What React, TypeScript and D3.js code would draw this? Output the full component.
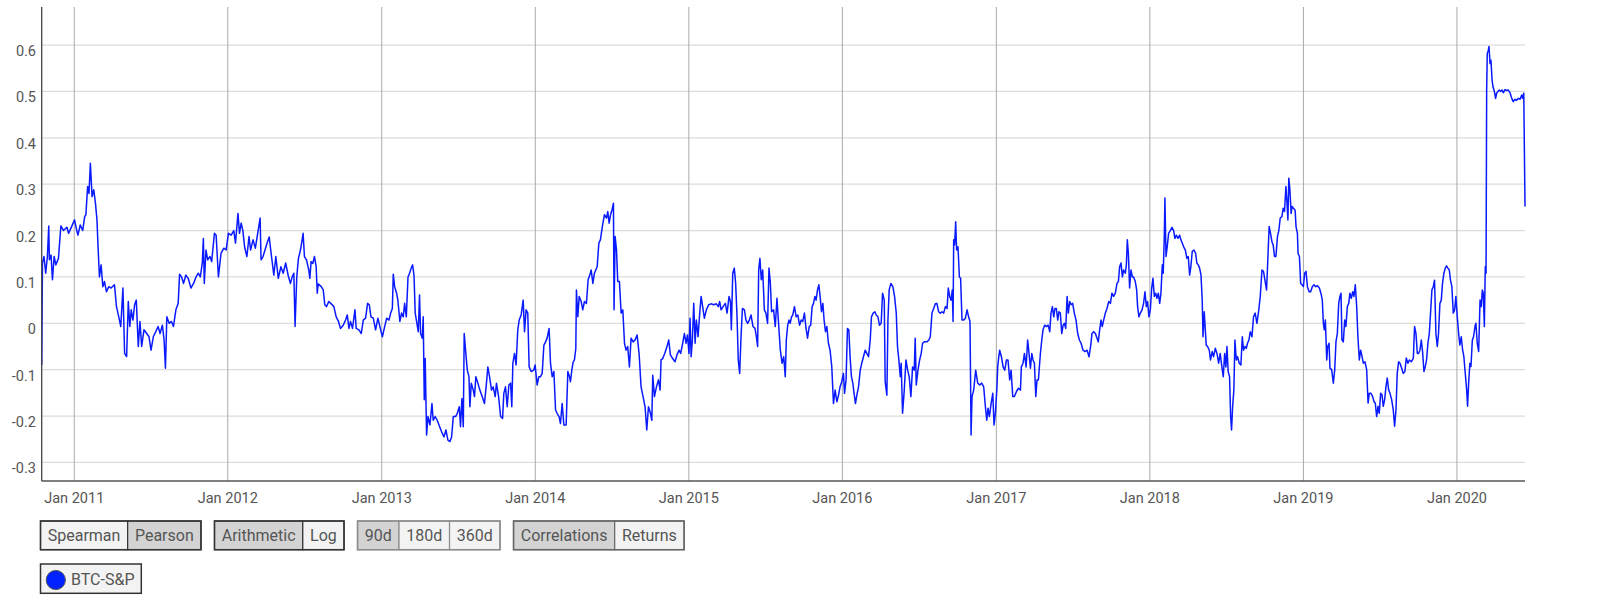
import React, { useMemo } from "react";
import * as d3 from "d3";

// Decimal-year / correlation pairs (90d Pearson BTC vs S&P)
const corr2011: [number, number][] = [
  [2010.788,-0.09],[2010.793,0.13],[2010.803,0.144],[2010.814,0.108],[2010.825,0.144],[2010.834,0.21],[2010.838,0.137],[2010.849,0.147],[2010.858,0.094],[2010.869,0.144],[2010.880,0.126],[2010.897,0.14],[2010.913,0.21],[2010.930,0.2],[2010.952,0.207],[2010.963,0.194],[2010.985,0.21],[2011.002,0.223],[2011.013,0.205],[2011.024,0.19],[2011.039,0.212],[2011.055,0.2],[2011.068,0.23],[2011.076,0.234],[2011.087,0.295],[2011.096,0.28],[2011.105,0.345],[2011.116,0.273],[2011.127,0.288],[2011.138,0.259],[2011.148,0.223],[2011.155,0.165],[2011.164,0.1],[2011.175,0.126],[2011.186,0.079],[2011.197,0.09],[2011.210,0.068],[2011.225,0.079],[2011.240,0.076],[2011.262,0.083],[2011.275,0.036],[2011.290,0.014],[2011.303,-0.007],[2011.317,0.076],[2011.328,-0.065],[2011.341,-0.072],[2011.352,0.047],[2011.362,-0.007],[2011.371,0.029],[2011.382,0.007],[2011.393,0.04],[2011.404,0.05],[2011.417,-0.05],[2011.428,0.004],[2011.439,-0.05],[2011.454,-0.014],[2011.472,-0.022],[2011.487,-0.029],[2011.500,-0.058],[2011.515,-0.029],[2011.531,-0.018],[2011.546,-0.007],[2011.559,-0.022],[2011.574,-0.004],[2011.585,-0.036],[2011.594,-0.097],[2011.603,0.014],[2011.618,0.0],[2011.633,0.004],[2011.646,-0.007],[2011.662,0.029],[2011.677,0.043],[2011.686,0.106],[2011.699,0.1],[2011.712,0.086],[2011.727,0.104],[2011.742,0.097],[2011.760,0.076],[2011.777,0.086],[2011.793,0.1],[2011.808,0.108],[2011.821,0.1],[2011.834,0.13],[2011.841,0.183],[2011.847,0.086],[2011.858,0.158],[2011.869,0.137],[2011.884,0.144],[2011.895,0.133],[2011.913,0.194],[2011.924,0.19],[2011.939,0.1],[2011.956,0.151],[2011.974,0.162],[2011.989,0.158],
];
const corr2012: [number, number][] = [
  [2012.004,0.194],[2012.022,0.19],[2012.039,0.2],[2012.050,0.173],[2012.066,0.237],[2012.076,0.194],[2012.087,0.216],[2012.098,0.2],[2012.109,0.165],[2012.124,0.144],[2012.138,0.187],[2012.148,0.158],[2012.164,0.18],[2012.179,0.162],[2012.197,0.2],[2012.210,0.227],[2012.216,0.137],[2012.229,0.144],[2012.245,0.162],[2012.258,0.176],[2012.269,0.186],[2012.284,0.144],[2012.299,0.104],[2012.312,0.144],[2012.328,0.097],[2012.345,0.122],[2012.360,0.108],[2012.376,0.13],[2012.393,0.102],
  [2012.407,0.086],[2012.418,0.1],[2012.429,0.108],[2012.437,-0.007],[2012.448,0.1],[2012.459,0.14],[2012.472,0.158],[2012.483,0.18],[2012.489,0.194],[2012.498,0.144],[2012.511,0.137],[2012.526,0.115],[2012.533,0.097],[2012.541,0.133],[2012.552,0.129],[2012.563,0.144],[2012.574,0.122],[2012.581,0.065],[2012.587,0.085],[2012.607,0.079],[2012.620,0.072],[2012.630,0.04],[2012.641,0.036],[2012.656,0.047],[2012.672,0.042],[2012.689,0.036],[2012.704,0.014],[2012.719,0.004],[2012.732,-0.011],[2012.750,-0.004],[2012.765,0.007],[2012.776,0.018],[2012.787,-0.011],[2012.797,0.004],[2012.810,-0.011],[2012.826,0.029],[2012.834,-0.011],[2012.852,-0.014],[2012.867,-0.022],[2012.880,0.007],[2012.895,0.011],[2012.908,0.043],[2012.919,0.04],[2012.930,0.014],[2012.945,0.011],[2012.960,-0.014],[2012.975,0.011],[2012.988,-0.007],
];
const corr2013: [number, number][] = [
  [2013.004,-0.029],[2013.019,-0.007],[2013.032,0.011],[2013.047,0.007],[2013.058,0.022],[2013.069,0.032],[2013.075,0.106],[2013.084,0.079],[2013.097,0.065],[2013.105,0.05],[2013.118,0.004],[2013.129,0.022],[2013.140,0.014],[2013.149,0.043],[2013.160,0.014],[2013.171,0.1],[2013.181,0.108],[2013.192,0.119],[2013.201,0.126],[2013.210,0.104],[2013.218,0.022],[2013.229,0.0],[2013.238,-0.018],[2013.246,0.061],[2013.253,-0.022],[2013.264,-0.032],[2013.270,0.014],[2013.277,-0.165],[2013.283,-0.076],[2013.292,-0.241],[2013.301,-0.201],[2013.314,-0.219],[2013.327,-0.173],[2013.335,-0.209],[2013.348,-0.201],[2013.361,-0.209],[2013.377,-0.223],[2013.390,-0.234],[2013.405,-0.245],[2013.418,-0.23],[2013.431,-0.252],[2013.444,-0.255],[2013.455,-0.245],[2013.466,-0.201],[2013.481,-0.201],[2013.492,-0.194],[2013.505,-0.18],[2013.513,-0.223],[2013.522,-0.162],[2013.531,-0.223],[2013.537,-0.022],[2013.546,-0.058],[2013.557,-0.101],[2013.568,-0.115],[2013.574,-0.18],[2013.583,-0.129],[2013.596,-0.144],[2013.604,-0.158],[2013.613,-0.115],[2013.626,-0.129],[2013.639,-0.144],[2013.654,-0.158],[2013.669,-0.173],[2013.682,-0.129],[2013.691,-0.094],[2013.702,-0.115],[2013.715,-0.144],[2013.726,-0.137],[2013.739,-0.158],[2013.747,-0.129],[2013.761,-0.158],[2013.774,-0.201],[2013.787,-0.205],[2013.795,-0.151],[2013.806,-0.137],[2013.817,-0.18],[2013.828,-0.133],[2013.839,-0.129],[2013.847,-0.18],[2013.854,-0.086],[2013.865,-0.065],[2013.875,-0.09],[2013.886,-0.014],[2013.895,0.007],[2013.908,0.018],[2013.921,0.05],[2013.930,-0.018],[2013.940,0.029],[2013.951,0.022],[2013.960,-0.094],[2013.973,-0.104],[2013.990,-0.101],[2013.999,-0.09],
];
const corr2014: [number, number][] = [
  [2014.012,-0.133],[2014.023,-0.115],[2014.034,-0.115],[2014.045,-0.108],[2014.056,-0.047],[2014.067,-0.04],[2014.077,-0.032],[2014.090,-0.011],[2014.099,-0.086],[2014.110,-0.115],[2014.121,-0.104],[2014.132,-0.187],[2014.142,-0.194],[2014.155,-0.201],[2014.164,-0.216],[2014.175,-0.173],[2014.186,-0.219],[2014.201,-0.219],[2014.212,-0.104],[2014.223,-0.115],[2014.229,-0.126],[2014.238,-0.101],[2014.247,-0.083],[2014.255,-0.079],[2014.264,-0.054],[2014.268,0.072],[2014.277,0.014],[2014.286,0.058],[2014.299,0.047],[2014.309,0.029],[2014.320,0.047],[2014.333,0.043],[2014.344,0.094],[2014.355,0.104],[2014.364,0.115],[2014.375,0.086],[2014.385,0.108],[2014.403,0.122],[2014.414,0.173],[2014.424,0.18],[2014.437,0.209],[2014.450,0.234],[2014.464,0.227],[2014.472,0.241],[2014.481,0.216],[2014.490,0.234],[2014.500,0.245],[2014.509,0.259],[2014.513,0.029],[2014.520,0.187],[2014.529,0.158],[2014.537,0.09],[2014.548,0.09],[2014.559,0.022],[2014.570,0.029],[2014.581,-0.043],[2014.591,-0.058],[2014.602,-0.05],[2014.613,-0.094],[2014.624,-0.032],[2014.637,-0.04],[2014.650,-0.036],[2014.663,-0.025],[2014.676,-0.065],[2014.689,-0.137],[2014.702,-0.158],[2014.715,-0.18],[2014.726,-0.23],[2014.737,-0.18],[2014.750,-0.194],[2014.759,-0.209],[2014.765,-0.112],[2014.776,-0.158],[2014.789,-0.137],[2014.802,-0.122],[2014.813,-0.144],[2014.819,-0.079],[2014.830,-0.076],[2014.843,-0.065],[2014.858,-0.05],[2014.869,-0.036],[2014.880,-0.068],[2014.895,-0.076],[2014.910,-0.083],[2014.923,-0.068],[2014.936,-0.058],[2014.947,-0.065],[2014.960,-0.043],[2014.971,-0.022],[2014.982,-0.043],[2014.991,-0.025],
];
const corr2015: [number, number][] = [
  [2015.001,-0.065],[2015.008,0.011],[2015.015,-0.072],[2015.023,-0.036],[2015.032,0.043],[2015.041,-0.043],[2015.049,0.007],[2015.060,-0.029],[2015.071,0.022],[2015.080,0.058],[2015.090,0.036],[2015.101,0.011],[2015.114,0.029],[2015.129,0.04],[2015.145,0.042],[2015.162,0.04],[2015.179,0.042],[2015.192,0.036],[2015.201,0.047],[2015.210,0.029],[2015.223,0.036],[2015.238,0.043],[2015.249,0.022],[2015.262,0.058],[2015.271,0.047],[2015.277,-0.014],[2015.286,0.108],[2015.296,0.119],[2015.305,0.086],[2015.314,0.014],[2015.322,-0.079],[2015.331,-0.108],[2015.340,-0.029],[2015.349,0.032],[2015.362,0.029],[2015.372,0.007],[2015.383,0.0],[2015.394,0.007],[2015.405,0.018],[2015.418,-0.007],[2015.431,-0.011],[2015.440,-0.029],[2015.448,-0.05],[2015.455,0.115],[2015.463,0.14],[2015.472,0.094],[2015.481,0.115],[2015.492,0.029],[2015.502,0.022],[2015.513,0.0],[2015.522,0.119],[2015.531,0.086],[2015.539,0.025],[2015.552,0.029],[2015.563,-0.007],[2015.574,0.054],[2015.583,0.007],[2015.596,-0.058],[2015.607,-0.086],[2015.618,-0.072],[2015.628,-0.115],[2015.635,-0.036],[2015.644,-0.004],[2015.652,0.007],
  [2015.660,0.0],[2015.669,0.014],[2015.677,0.018],[2015.688,0.036],[2015.699,0.014],[2015.710,0.018],[2015.721,-0.004],[2015.732,0.007],[2015.742,0.004],[2015.753,0.022],[2015.762,-0.007],[2015.773,-0.032],[2015.784,-0.007],[2015.794,-0.004],[2015.803,0.036],[2015.812,0.043],[2015.821,0.058],[2015.829,0.05],[2015.838,0.072],[2015.847,0.083],[2015.855,0.058],[2015.864,0.025],[2015.873,0.043],[2015.881,0.007],[2015.890,-0.018],[2015.899,-0.007],[2015.909,-0.043],[2015.920,-0.058],[2015.931,-0.094],[2015.942,-0.173],[2015.953,-0.144],[2015.964,-0.169],[2015.975,-0.155],[2015.985,-0.137],[2015.996,-0.126],
];
const corr2016: [number, number][] = [
  [2016.007,-0.108],[2016.014,-0.151],[2016.024,-0.122],[2016.033,-0.011],[2016.042,-0.014],[2016.050,-0.072],[2016.059,-0.115],[2016.068,-0.129],[2016.076,-0.151],[2016.085,-0.173],[2016.094,-0.155],[2016.105,-0.137],[2016.116,-0.101],[2016.126,-0.086],[2016.137,-0.072],[2016.148,-0.058],[2016.159,-0.065],[2016.170,-0.072],[2016.181,-0.036],[2016.189,0.014],[2016.200,0.022],[2016.211,0.025],[2016.220,0.018],[2016.231,0.014],[2016.241,-0.004],[2016.252,0.0],[2016.261,0.065],[2016.272,0.05],[2016.278,-0.126],[2016.289,-0.155],[2016.296,0.007],[2016.304,0.072],[2016.315,0.086],[2016.328,0.079],[2016.339,0.058],[2016.350,0.022],[2016.358,-0.05],[2016.367,-0.079],[2016.376,-0.115],[2016.382,-0.086],[2016.391,-0.194],[2016.402,-0.144],[2016.413,-0.079],[2016.424,-0.101],[2016.434,-0.115],[2016.445,-0.158],[2016.456,-0.094],[2016.467,-0.101],[2016.473,-0.032],[2016.480,-0.133],[2016.491,-0.101],[2016.502,-0.079],[2016.512,-0.065],[2016.521,-0.043],[2016.532,-0.04],[2016.549,-0.04],[2016.562,-0.036],[2016.571,-0.029],[2016.582,0.022],[2016.593,0.032],[2016.604,0.042],[2016.614,0.043],[2016.625,0.025],[2016.636,0.022],[2016.647,0.025],[2016.658,0.022],[2016.669,0.036],[2016.680,0.032],[2016.688,0.076],[2016.697,0.058],[2016.706,0.05],[2016.714,0.072],[2016.719,0.004],[2016.723,0.18],[2016.729,0.169],[2016.736,0.219],[2016.742,0.158],[2016.751,0.165],[2016.760,0.1],[2016.768,0.097],[2016.777,0.007],[2016.788,0.007],[2016.799,0.011],[2016.810,0.029],[2016.820,0.014],[2016.829,0.004],[2016.836,-0.241],[2016.842,-0.158],[2016.853,-0.144],[2016.866,-0.101],[2016.879,-0.129],[2016.892,-0.133],[2016.905,-0.129],[2016.918,-0.137],[2016.929,-0.18],[2016.938,-0.209],[2016.946,-0.183],[2016.955,-0.201],[2016.966,-0.173],[2016.977,-0.151],[2016.985,-0.219],[2016.994,-0.194],
];
const corr2017: [number, number][] = [
  [2017.003,-0.144],[2017.009,-0.094],[2017.016,-0.072],[2017.022,-0.058],[2017.033,-0.072],[2017.044,-0.094],[2017.055,-0.101],[2017.066,-0.079],[2017.076,-0.079],[2017.087,-0.122],[2017.096,-0.101],[2017.107,-0.158],[2017.118,-0.158],[2017.131,-0.147],[2017.144,-0.14],[2017.157,-0.144],[2017.163,-0.094],[2017.174,-0.086],[2017.183,-0.065],[2017.194,-0.094],[2017.204,-0.036],[2017.213,-0.065],[2017.222,-0.097],[2017.231,-0.065],[2017.239,-0.079],[2017.248,-0.086],[2017.257,-0.158],[2017.265,-0.122],[2017.274,-0.122],
  [2017.287,-0.065],[2017.296,-0.036],[2017.304,-0.014],[2017.315,-0.004],[2017.326,-0.007],[2017.337,-0.004],[2017.348,-0.018],[2017.356,0.022],[2017.365,0.036],[2017.374,0.014],[2017.382,0.032],[2017.391,0.032],[2017.400,0.007],[2017.408,0.025],[2017.417,0.022],[2017.426,-0.022],[2017.435,-0.004],[2017.443,0.0],[2017.452,-0.011],[2017.461,0.058],[2017.469,0.022],[2017.478,0.047],[2017.487,0.04],[2017.497,0.043],[2017.508,0.022],[2017.519,0.007],[2017.530,-0.022],[2017.541,-0.036],[2017.552,-0.043],[2017.565,-0.058],[2017.578,-0.061],[2017.591,-0.058],[2017.604,-0.072],[2017.615,-0.047],[2017.623,-0.022],[2017.634,-0.018],[2017.645,-0.022],[2017.656,-0.032],[2017.664,-0.04],[2017.673,-0.014],[2017.682,0.007],[2017.690,-0.007],[2017.699,0.007],[2017.710,0.022],[2017.721,0.032],[2017.732,0.047],[2017.743,0.043],[2017.753,0.065],[2017.764,0.058],[2017.775,0.065],[2017.786,0.086],[2017.795,0.09],[2017.803,0.122],[2017.812,0.13],[2017.821,0.1],[2017.829,0.115],[2017.840,0.108],[2017.847,0.126],[2017.853,0.18],[2017.860,0.151],[2017.868,0.076],[2017.877,0.115],[2017.886,0.1],[2017.894,0.1],[2017.905,0.09],[2017.914,0.072],[2017.920,0.036],[2017.929,0.014],[2017.938,0.022],[2017.949,0.029],[2017.959,0.043],[2017.968,0.068],[2017.977,0.036],[2017.985,0.047],[2017.994,0.014],
];
const corr2018: [number, number][] = [
  [2018.003,0.029],[2018.012,0.076],[2018.020,0.097],[2018.029,0.058],[2018.038,0.065],[2018.046,0.054],[2018.055,0.065],[2018.064,0.043],[2018.072,0.065],[2018.081,0.126],[2018.087,0.108],[2018.094,0.187],[2018.098,0.27],[2018.105,0.144],[2018.113,0.165],[2018.122,0.194],[2018.133,0.2],[2018.144,0.207],[2018.155,0.2],[2018.163,0.183],[2018.172,0.19],[2018.183,0.183],[2018.194,0.19],[2018.202,0.18],[2018.211,0.173],[2018.220,0.165],[2018.231,0.158],[2018.241,0.14],[2018.250,0.144],[2018.259,0.104],[2018.267,0.122],[2018.276,0.155],[2018.287,0.158],[2018.298,0.151],[2018.306,0.13],[2018.315,0.126],[2018.324,0.119],[2018.333,0.104],[2018.341,0.05],[2018.346,-0.029],[2018.354,0.025],[2018.361,-0.014],[2018.367,-0.047],[2018.376,-0.05],[2018.387,-0.058],[2018.395,-0.079],[2018.406,-0.061],[2018.415,-0.072],[2018.426,-0.054],[2018.437,-0.065],[2018.448,-0.086],[2018.458,-0.065],[2018.469,-0.094],[2018.478,-0.115],[2018.487,-0.065],[2018.495,-0.094],[2018.502,-0.05],[2018.510,-0.104],[2018.519,-0.115],[2018.526,-0.201],[2018.532,-0.23],[2018.539,-0.18],[2018.547,-0.144],[2018.554,-0.036],[2018.563,-0.079],[2018.571,-0.072],[2018.582,-0.086],[2018.593,-0.09],[2018.602,-0.029],[2018.610,-0.058],[2018.619,-0.05],[2018.628,-0.054],[2018.636,-0.043],[2018.645,-0.036],[2018.654,-0.018],[2018.665,-0.029],[2018.675,0.014],[2018.686,0.022],[2018.697,0.0],[2018.708,0.025],[2018.719,0.058],[2018.730,0.115],[2018.740,0.112],[2018.751,0.09],[2018.760,0.072],[2018.769,0.144],[2018.777,0.209],[2018.786,0.194],[2018.795,0.176],[2018.803,0.169],[2018.812,0.144],[2018.821,0.144],[2018.831,0.187],[2018.840,0.2],[2018.849,0.227],[2018.860,0.23],[2018.868,0.248],[2018.877,0.241],[2018.886,0.295],[2018.892,0.266],[2018.899,0.223],[2018.905,0.313],[2018.912,0.288],[2018.920,0.237],[2018.926,0.252],[2018.935,0.248],[2018.946,0.244],[2018.952,0.208],[2018.961,0.194],[2018.965,0.151],[2018.974,0.144],[2018.982,0.086],[2018.991,0.083],
];
const corr2019: [number, number][] = [
  [2019.000,0.079],[2019.008,0.108],[2019.017,0.112],[2019.026,0.079],[2019.037,0.068],[2019.047,0.068],[2019.058,0.079],[2019.069,0.083],[2019.080,0.079],[2019.091,0.081],[2019.104,0.076],[2019.117,0.061],[2019.123,0.05],[2019.130,0.0],[2019.136,-0.014],[2019.143,0.007],[2019.152,-0.079],[2019.158,-0.05],[2019.167,-0.043],[2019.173,-0.097],[2019.184,-0.1],[2019.195,-0.129],[2019.204,-0.1],[2019.212,-0.04],[2019.221,-0.022],[2019.230,0.043],[2019.238,0.058],[2019.245,0.065],[2019.251,-0.036],[2019.260,-0.04],[2019.269,0.007],[2019.277,-0.007],[2019.286,0.036],[2019.295,0.043],[2019.303,0.065],[2019.312,0.054],[2019.321,0.068],[2019.329,0.058],[2019.338,0.083],[2019.347,0.036],[2019.355,-0.029],[2019.364,-0.079],[2019.373,-0.058],[2019.382,-0.072],[2019.390,-0.086],[2019.401,-0.083],[2019.412,-0.1],[2019.421,-0.172],[2019.429,-0.151],[2019.440,-0.151],[2019.451,-0.158],[2019.460,-0.169],[2019.468,-0.172],[2019.477,-0.201],[2019.486,-0.179],[2019.494,-0.194],[2019.503,-0.151],[2019.512,-0.154],[2019.520,-0.179],[2019.529,-0.165],[2019.538,-0.136],[2019.546,-0.118],[2019.555,-0.143],[2019.564,-0.151],[2019.575,-0.165],[2019.585,-0.186],[2019.594,-0.222],[2019.603,-0.186],[2019.611,-0.108],[2019.620,-0.083],[2019.629,-0.086],[2019.640,-0.097],[2019.650,-0.108],[2019.661,-0.104],[2019.670,-0.075],[2019.681,-0.086],[2019.690,-0.079],[2019.703,-0.083],[2019.716,-0.075],[2019.724,-0.007],[2019.733,-0.022],[2019.742,-0.065],[2019.750,-0.065],[2019.759,-0.058],[2019.768,-0.036],[2019.776,-0.061],[2019.785,-0.104],[2019.794,-0.093],[2019.802,-0.079],[2019.811,-0.043],[2019.820,-0.022],[2019.828,0.022],[2019.837,0.072],[2019.846,0.079],[2019.854,0.093],[2019.863,-0.022],[2019.872,-0.05],[2019.880,-0.022],[2019.889,0.043],[2019.898,0.05],[2019.906,0.086],[2019.915,0.108],[2019.924,0.119],[2019.932,0.124],[2019.941,0.119],[2019.950,0.115],[2019.958,0.093],[2019.967,0.079],[2019.976,0.022],[2019.985,0.029],[2019.993,0.058],
];
const corr2020: [number, number][] = [
  [2020.002,0.014],[2020.011,-0.022],[2020.019,-0.047],[2020.028,-0.029],[2020.037,-0.058],[2020.045,-0.072],[2020.054,-0.108],[2020.063,-0.143],[2020.069,-0.179],[2020.076,-0.129],[2020.084,-0.086],[2020.091,-0.093],[2020.100,-0.036],[2020.108,-0.029],[2020.117,-0.007],[2020.123,0.0],[2020.132,-0.043],[2020.141,-0.061],[2020.150,0.05],[2020.158,0.036],[2020.165,0.072],[2020.171,0.065],[2020.178,-0.007],[2020.184,0.122],[2020.189,0.108],[2020.193,0.503],[2020.197,0.582],[2020.204,0.589],[2020.208,0.597],[2020.215,0.56],[2020.221,0.567],[2020.228,0.525],[2020.234,0.51],[2020.243,0.5],[2020.251,0.485],[2020.258,0.496],[2020.267,0.5],[2020.275,0.503],[2020.284,0.5],[2020.293,0.503],[2020.301,0.497],[2020.312,0.504],[2020.323,0.502],[2020.334,0.503],[2020.345,0.497],[2020.356,0.485],[2020.366,0.478],[2020.377,0.483],[2020.388,0.481],[2020.399,0.485],[2020.410,0.483],[2020.421,0.492],[2020.427,0.485],[2020.434,0.496],[2020.442,0.252],
];

const yTicks = [-0.3, -0.2, -0.1, 0, 0.1, 0.2, 0.3, 0.4, 0.5, 0.6];
const yDomain: [number, number] = [-0.34, 0.682];
const xTickYears = [2011, 2012, 2013, 2014, 2015, 2016, 2017, 2018, 2019, 2020];
const buttonGroups = [
  ["Spearman", "Pearson"],
  ["Arithmetic", "Log"],
  ["90d", "180d", "360d"],
  ["Correlations", "Returns"],
];
const selectedButtons = ["Pearson", "Arithmetic", "90d", "Correlations"];
const seriesName = "BTC-S&P";

function yearToDate(t: number): Date {
  const y = Math.floor(t);
  const s = Date.UTC(y, 0, 1);
  const e = Date.UTC(y + 1, 0, 1);
  return new Date(s + (t - y) * (e - s));
}

const W = 1600, H = 609;
const L = 41.7, R = 1525, T = 7, B = 481;
const FONT = "Roboto, 'Noto Sans', sans-serif";
const TEXT = "#555";

export default function App() {
  const series = useMemo(
    () =>
      [...corr2011, ...corr2012, ...corr2013, ...corr2014, ...corr2015, ...corr2016, ...corr2017, ...corr2018, ...corr2019, ...corr2020]
        .map(([t, v]) => ({ date: yearToDate(t), v }))
        .sort((a, b) => +a.date - +b.date),
    []
  );

  const x = d3.scaleUtc().domain(d3.extent(series, (d) => d.date) as [Date, Date]).range([L, R]);
  const y = d3.scaleLinear().domain(yDomain).range([B, T]);
  const line = d3.line<{ date: Date; v: number }>().x((d) => x(d.date)).y((d) => y(d.v));
  const fmt = d3.utcFormat("%b %Y");

  const measure = useMemo(() => {
    const c = document.createElement("canvas").getContext("2d");
    return (s: string) => {
      if (c) {
        c.font = "16px Roboto";
        return c.measureText(s).width;
      }
      return s.length * 8.6;
    };
  }, []);

  const groupBorders = ["#333", "#333", "#8c8c8c", "#666"];
  const buttons: JSX.Element[] = [];
  let bx = 40.5;
  const by = 521, bh = 28.7;
  buttonGroups.forEach((g, gi) => {
    const gx = bx;
    g.forEach((label) => {
      const w = measure(label) + 14.5;
      const sel = selectedButtons.includes(label);
      buttons.push(
        <g key={label}>
          <rect x={bx} y={by} width={w} height={bh} fill={sel ? "#d3d3d3" : "#f3f3f3"} stroke={groupBorders[gi]} strokeWidth={1.2} />
          <text x={bx + w / 2} y={541} textAnchor="middle" fontSize={16} fill={TEXT} fontFamily={FONT}>
            {label}
          </text>
        </g>
      );
      bx += w;
    });
    buttons.push(
      <rect key={"g" + gi} x={gx} y={by} width={bx - gx} height={bh} fill="none" stroke={groupBorders[gi]} strokeWidth={1.5} />
    );
    bx += 13.5;
  });

  return (
    <div style={{ position: "absolute", left: 0, top: 0 }}>
      <svg width={W} height={H} style={{ display: "block", background: "#fff" }}>
        {yTicks.map((t) => (
          <line key={"h" + t} x1={L} x2={R} y1={y(t)} y2={y(t)} stroke="#dcdcdc" strokeWidth={1.2} />
        ))}
        {xTickYears.map((yr) => {
          const d = new Date(Date.UTC(yr, 0, 1));
          return (
            <g key={"v" + yr}>
              <line x1={x(d)} x2={x(d)} y1={T} y2={B} stroke="#aaaaaa" strokeWidth={1} />
              <text x={x(d)} y={503} textAnchor="middle" fontSize={14.5} fill={TEXT} fontFamily={FONT}>
                {fmt(d)}
              </text>
            </g>
          );
        })}
        {yTicks.map((t) => (
          <text key={"yl" + t} x={36} y={y(t) + 11} textAnchor="end" fontSize={14.5} fill={TEXT} fontFamily={FONT}>
            {t === 0 ? "0" : String(+t.toFixed(1))}
          </text>
        ))}
        <path d={line(series) || ""} fill="none" stroke="#0a1aff" strokeWidth={1.5} strokeLinejoin="round" />
        <line x1={L} x2={L} y1={T} y2={B} stroke="#444" strokeWidth={1.3} />
        <line x1={L} x2={R} y1={B} y2={B} stroke="#555" strokeWidth={1.3} />
        {buttons}
        <rect x={40.5} y={564} width={100.8} height={29.3} fill="#f3f3f3" stroke="#333" strokeWidth={1.5} />
        <circle cx={55.8} cy={580} r={9.6} fill="#0022ff" stroke="#555" strokeWidth={1} />
        <text x={71} y={584.5} fontSize={16} fill={TEXT} fontFamily={FONT}>
          {seriesName}
        </text>
      </svg>
    </div>
  );
}
